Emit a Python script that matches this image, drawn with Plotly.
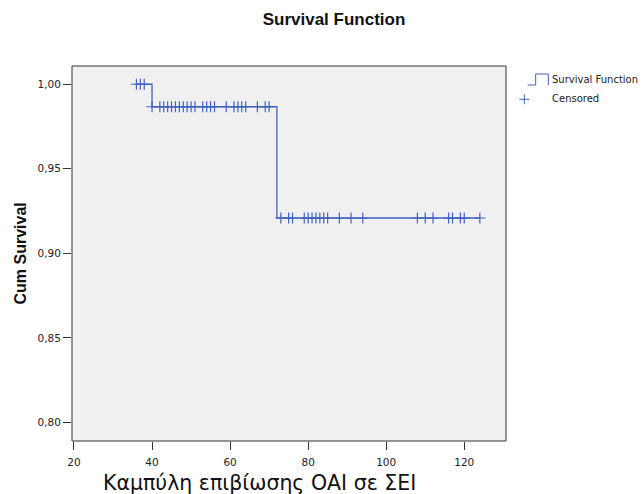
import plotly.graph_objects as go

# Kaplan-Meier: χρόνοι γεγονότων και επίπεδα επιβίωσης (διαβασμένα από το γράφημα)
start_time = 36
end_time = 124
event_times = [40, 72]
survival_levels = [1.0, 0.9867, 0.9209]

# λογοκριμένες παρατηρήσεις (+)
censored_times = [36, 37, 38,
                  40, 42, 43, 44, 45, 46, 47, 48, 49, 50, 51, 53, 54, 55, 56,
                  59, 61, 62, 63, 64, 67, 69, 70,
                  73, 75, 76, 79, 80, 81, 82, 83, 84, 85, 88, 91, 94,
                  108, 110, 112, 116, 117, 119, 120, 124]

x_ticks = [20, 40, 60, 80, 100, 120]
y_ticks = [0.80, 0.85, 0.90, 0.95, 1.00]

BLUE = "#4262c2"
BOLD_FONT = "Liberation Sans, Arial, sans-serif"
FONT = "DejaVu Sans, Verdana, sans-serif"


def level_at(t):
    s = survival_levels[0]
    for et, lv in zip(event_times, survival_levels[1:]):
        if t >= et:
            s = lv
    return s


step_x = [start_time] + event_times + [end_time]
step_y = survival_levels + [survival_levels[-1]]

fig = go.Figure()
fig.add_trace(go.Scatter(
    x=step_x, y=step_y, mode="lines", line_shape="hv",
    line=dict(color=BLUE, width=1.3), hoverinfo="skip", showlegend=False,
))
fig.add_trace(go.Scatter(
    x=censored_times, y=[level_at(t) for t in censored_times], mode="markers",
    marker=dict(symbol="cross-thin", size=8, line=dict(color=BLUE, width=1.2)),
    showlegend=False,
))

fig.update_layout(
    width=643, height=494,
    margin=dict(l=72, r=137, t=66, b=53),
    paper_bgcolor="white",
    plot_bgcolor="#f0f0f0",
    font=dict(family=FONT, color="#222", size=10.5),
    separators=",.",
    title=dict(text="<b>Survival Function</b>", x=334 / 643, xanchor="center",
               y=1 - 19 / 494, yanchor="middle",
               font=dict(family=BOLD_FONT, size=17, color="#111")),
    xaxis=dict(range=[19.49, 130.7], tickvals=x_ticks, ticks="outside",
               ticklen=8, tickcolor="#333", showgrid=False, zeroline=False,
               showline=False, tickfont=dict(size=10.5),
               ticklabelstandoff=3),
    yaxis=dict(range=[0.789, 1.0108], tickvals=y_ticks, tickformat=".2f",
               ticks="outside", ticklen=8, tickcolor="#333", showgrid=False,
               zeroline=False, showline=False, tickfont=dict(size=10.5)),
    shapes=[
        dict(type="rect", xref="paper", yref="paper", x0=0, x1=1, y0=0, y1=1,
             line=dict(color="#333", width=1)),
        # υπόμνημα: σύμβολο βηματικής καμπύλης
        dict(type="path", xref="paper", yref="paper",
             path="M 1.0500,0.9493 L 1.0684,0.9493 L 1.0684,0.9787 L 1.0975,0.9787 L 1.0975,0.9493",
             line=dict(color=BLUE, width=1)),
        # υπόμνημα: σύμβολο +
        dict(type="line", xref="paper", yref="paper",
             x0=1.0307, x1=1.0537, y0=0.9112, y1=0.9112,
             line=dict(color=BLUE, width=1)),
        dict(type="line", xref="paper", yref="paper",
             x0=1.0422, x1=1.0422, y0=0.8979, y1=0.9245,
             line=dict(color=BLUE, width=1)),
    ],
    annotations=[
        dict(text="Survival Function", xref="paper", yref="paper",
             x=1.1010, y=0.9627, xanchor="left", yanchor="middle",
             showarrow=False, font=dict(size=10, color="#222")),
        dict(text="Censored", xref="paper", yref="paper",
             x=1.1010, y=0.9139, xanchor="left", yanchor="middle",
             showarrow=False, font=dict(size=10, color="#222")),
        dict(text="<b>Cum Survival</b>", xref="paper", yref="paper",
             x=-52 / 434, y=0.5, xanchor="center", yanchor="middle",
             textangle=-90, showarrow=False,
             font=dict(family=BOLD_FONT, size=16, color="#111")),
        dict(text="Καμπύλη επιβίωσης ΟΑΙ σε ΣΕΙ", xref="paper", yref="paper",
             x=(259 - 72) / 434, y=-(483 - 441) / 375, xanchor="center",
             yanchor="middle", showarrow=False,
             font=dict(size=20.5, color="#111")),
    ],
)

# χωρίς το προεπιλεγμένο περιθώριο 8px της σελίδας
fig.write_html("out.html", config={"displayModeBar": False},
               post_script="document.body.style.margin='0';"
                           "document.body.style.overflow='hidden';")
